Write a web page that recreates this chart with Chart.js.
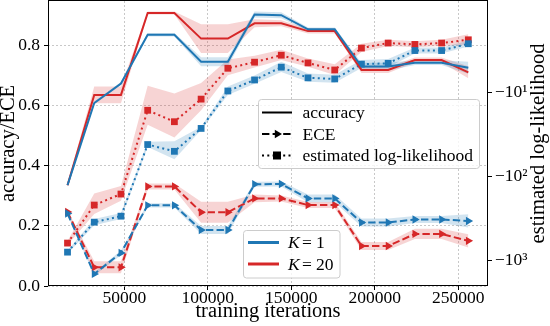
<!DOCTYPE html>
<html>
<head>
<meta charset="utf-8">
<script src="https://cdn.jsdelivr.net/npm/chart.js@4.4.1/dist/chart.umd.min.js"></script>
<style>
html,body{margin:0;padding:0;background:#fff}
</style>
</head>
<body>
<canvas id="myChart" width="550" height="326"></canvas>
<script>
// training iterations (x)
const iters = [16000,32000,48000,64000,80000,96000,112000,128000,144000,160000,176000,192000,208000,224000,240000,256000];

// accuracy (left axis)
const accK1  = [0.335,0.608,0.673,0.835,0.835,0.745,0.745,0.902,0.900,0.853,0.853,0.729,0.729,0.742,0.742,0.725];
const accK20 = [0.335,0.635,0.635,0.907,0.907,0.822,0.822,0.873,0.873,0.847,0.847,0.718,0.718,0.751,0.751,0.710];
const accK1Sd  = [0.005,0.005,0.005,0.006,0.006,0.015,0.015,0.01,0.01,0.006,0.006,0.013,0.013,0.008,0.008,0.02];
const accK20Sd = [0.005,0.028,0.028,0.005,0.005,0.048,0.048,0.013,0.01,0.008,0.008,0.01,0.01,0.008,0.008,0.02];

// ECE (left axis)
const eceK1  = [0.241,0.040,0.110,0.268,0.268,0.186,0.186,0.338,0.339,0.291,0.291,0.211,0.211,0.221,0.221,0.216];
const eceK20 = [0.246,0.062,0.062,0.331,0.331,0.245,0.245,0.291,0.291,0.269,0.269,0.133,0.133,0.173,0.173,0.150];
const eceK1Sd  = [0.005,0.005,0.008,0.007,0.007,0.013,0.013,0.008,0.008,0.013,0.013,0.013,0.013,0.012,0.012,0.022];
const eceK20Sd = [0.005,0.02,0.02,0.01,0.01,0.035,0.035,0.013,0.01,0.01,0.01,0.013,0.013,0.017,0.017,0.022];

// estimated log-likelihood, stored as magnitude (right axis shows -10^k)
const llK1  = [796,350,297,41.7,50.2,26.8,9.6,7.1,5.0,6.7,6.9,4.6,4.5,3.17,3.17,2.63];
const llK20 = [621,219,162,16.3,22.3,12.0,5.15,4.36,3.6,4.45,5.4,2.96,2.58,2.68,2.58,2.36];
const llK1Sd  = [35,30,25,3,12,1.2,1.1,0.8,0.7,0.75,0.75,0.5,0.5,0.26,0.26,0.2];
const llK20Sd = [35,60,32,8,12,4.3,1.1,0.7,0.5,0.5,0.8,0.33,0.22,0.22,0.22,0.33];

// tick labels
const xTicks = [50000,100000,150000,200000,250000];
const leftTicks = [0,0.2,0.4,0.6,0.8];
const leftTickLabels = ['0.0','0.2','0.4','0.6','0.8'];
const rightTicks = [10,100,1000];
const rightTickLabels = ['\u221210\u00b9','\u221210\u00b2','\u221210\u00b3'];

const BLUE = '#1f77b4', RED = '#d62728';
const BLUE_A = 'rgba(31,119,180,0.2)', RED_A = 'rgba(214,39,40,0.2)';
const FONT = 'Liberation Serif';

function pts(vals) {
  return vals.map((v, i) => ({x: iters[i], y: v}));
}

function band(vals, sd, fillColor, axis) {
  const up = {
    data: vals.map((v, i) => ({x: iters[i], y: v + sd[i]})),
    yAxisID: axis, fill: '+1', backgroundColor: fillColor,
    borderWidth: 0, pointRadius: 0, order: 10
  };
  const lo = {
    data: vals.map((v, i) => ({x: iters[i], y: v - sd[i]})),
    yAxisID: axis, fill: false, borderWidth: 0, pointRadius: 0, order: 10
  };
  return [up, lo];
}

function line(vals, color, axis, kind) {
  const ds = {
    data: pts(vals), yAxisID: axis, borderColor: color, backgroundColor: color,
    borderWidth: 2, fill: false, order: 1, pointBorderWidth: 0, borderCapStyle: 'butt'
  };
  if (kind === 'solid') {
    ds.pointRadius = 0;
  } else if (kind === 'dash') {
    ds.borderDash = [7.4, 3.2];
    ds.pointStyle = 'triangle';
    ds.rotation = 90;
    ds.pointRadius = 4.8;
  } else {
    ds.borderDash = [2, 3.3];
    ds.pointStyle = 'rect';
    ds.pointRadius = 4.8;
  }
  return ds;
}

const datasets = [].concat(
  band(accK1, accK1Sd, BLUE_A, 'y'),
  band(accK20, accK20Sd, RED_A, 'y'),
  band(eceK1, eceK1Sd, BLUE_A, 'y'),
  band(eceK20, eceK20Sd, RED_A, 'y'),
  band(llK1, llK1Sd, BLUE_A, 'y2'),
  band(llK20, llK20Sd, RED_A, 'y2'),
  [
    line(accK1, BLUE, 'y', 'solid'),
    line(accK20, RED, 'y', 'solid'),
    line(eceK1, BLUE, 'y', 'dash'),
    line(eceK20, RED, 'y', 'dash'),
    line(llK1, BLUE, 'y2', 'dot'),
    line(llK20, RED, 'y2', 'dot')
  ]
);

function roundBox(ctx, x, y, w, h, r) {
  ctx.beginPath();
  ctx.moveTo(x + r, y);
  ctx.arcTo(x + w, y, x + w, y + h, r);
  ctx.arcTo(x + w, y + h, x, y + h, r);
  ctx.arcTo(x, y + h, x, y, r);
  ctx.arcTo(x, y, x + w, y, r);
  ctx.closePath();
  ctx.fillStyle = 'rgba(255,255,255,0.8)';
  ctx.fill();
  ctx.strokeStyle = '#cccccc';
  ctx.lineWidth = 1;
  ctx.stroke();
}

// frame, axis titles and the two legends
const extras = {
  id: 'extras',
  afterDatasetsDraw(chart) {
    const {ctx, chartArea: a} = chart;
    ctx.save();
    ctx.strokeStyle = '#000';
    ctx.lineWidth = 1;
    ctx.strokeRect(a.left + 0.5, a.top - 0.5, a.right - a.left - 1, a.bottom - a.top);
    ctx.restore();
  },
  afterDraw(chart) {
    const {ctx} = chart;
    ctx.save();
    ctx.fillStyle = '#000';
    ctx.font = '20.5px "' + FONT + '"';
    ctx.textAlign = 'center';
    ctx.textBaseline = 'alphabetic';
    ctx.fillText('training iterations', 268, 317);
    ctx.save();
    ctx.translate(14, 143.5);
    ctx.rotate(-Math.PI / 2);
    ctx.fillText('accuracy/ECE', 0, 0);
    ctx.restore();
    ctx.save();
    ctx.translate(544, 143.5);
    ctx.rotate(-Math.PI / 2);
    ctx.fillText('estimated log-likelihood', 0, 0);
    ctx.restore();

    // style legend
    roundBox(ctx, 258.5, 99.5, 221, 69, 3);
    ctx.font = '17.5px "' + FONT + '"';
    ctx.textAlign = 'left';
    ctx.textBaseline = 'middle';
    const rows = [112.5, 134, 155.5];
    const names = ['accuracy', 'ECE', 'estimated log-likelihood'];
    const dashes = [[], [7.4, 3.2], [2, 3.3]];
    rows.forEach((y, i) => {
      ctx.strokeStyle = '#000';
      ctx.fillStyle = '#000';
      ctx.lineWidth = 2;
      ctx.setLineDash(dashes[i]);
      ctx.beginPath();
      ctx.moveTo(262, y);
      ctx.lineTo(292, y);
      ctx.stroke();
      ctx.setLineDash([]);
      if (i === 1) {
        ctx.beginPath();
        ctx.moveTo(282, y);
        ctx.lineTo(274.8, y - 4.2);
        ctx.lineTo(274.8, y + 4.2);
        ctx.closePath();
        ctx.fill();
      } else if (i === 2) {
        ctx.fillRect(273, y - 4, 8, 8);
      }
      ctx.fillText(names[i], 302.5, y + 1);
    });

    // K legend
    roundBox(ctx, 243.5, 230.5, 96.5, 47.5, 3);
    const krows = [242.5, 264];
    const kcol = [BLUE, RED];
    const kval = ['1', '20'];
    krows.forEach((y, i) => {
      ctx.strokeStyle = kcol[i];
      ctx.lineWidth = 3;
      ctx.beginPath();
      ctx.moveTo(248, y);
      ctx.lineTo(279, y);
      ctx.stroke();
      ctx.fillStyle = '#000';
      ctx.font = 'italic 17.5px "' + FONT + '"';
      ctx.fillText('K', 288, y + 1);
      ctx.font = '17.5px "' + FONT + '"';
      ctx.fillText('=', 302, y + 1);
      ctx.fillText(kval[i], 316, y + 1);
    });
    ctx.restore();
  }
};

const tickFont = {family: FONT, size: 17.5, lineHeight: 1};

function noPad(s) {
  s.paddingTop = 0;
  s.paddingBottom = 0;
  s.paddingLeft = 0;
  s.paddingRight = 0;
}

new Chart(document.getElementById('myChart').getContext('2d'), {
  type: 'line',
  data: {datasets: datasets},
  options: {
    responsive: false,
    animation: false,
    events: [],
    layout: {autoPadding: false, padding: {top: 1, left: 0, right: 0, bottom: 0}},
    plugins: {legend: {display: false}, tooltip: {enabled: false}},
    scales: {
      x: {
        type: 'linear',
        min: 4311,
        max: 267784,
        afterBuildTicks: s => { s.ticks = xTicks.map(v => ({value: v})); },
        afterFit: s => { s.height = 40; noPad(s); },
        ticks: {callback: v => String(v), font: tickFont, color: '#000', padding: 0, maxRotation: 0, autoSkip: false},
        grid: {color: 'rgba(176,176,176,0.7)', tickColor: '#000', tickLength: 4},
        border: {display: false, dash: [2, 2]}
      },
      y: {
        position: 'left',
        min: 0,
        max: 0.947,
        afterBuildTicks: s => { s.ticks = leftTicks.map(v => ({value: v})); },
        afterFit: s => { s.width = 48; noPad(s); },
        ticks: {callback: (v, i) => leftTickLabels[i], font: tickFont, color: '#000', padding: 4, autoSkip: false},
        grid: {color: 'rgba(176,176,176,0.7)', tickColor: '#000', tickLength: 4},
        border: {display: false, dash: [2, 2]}
      },
      y2: {
        type: 'logarithmic',
        position: 'right',
        reverse: true,
        min: 0.815,
        max: 2014,
        afterBuildTicks: s => { s.ticks = rightTicks.map(v => ({value: v})); },
        afterFit: s => { s.width = 62; noPad(s); },
        ticks: {callback: (v, i) => rightTickLabels[i], font: tickFont, color: '#000', padding: 3, autoSkip: false},
        grid: {drawOnChartArea: false, tickColor: '#000', tickLength: 4},
        border: {display: false}
      }
    }
  },
  plugins: [extras]
});
</script>
</body>
</html>
